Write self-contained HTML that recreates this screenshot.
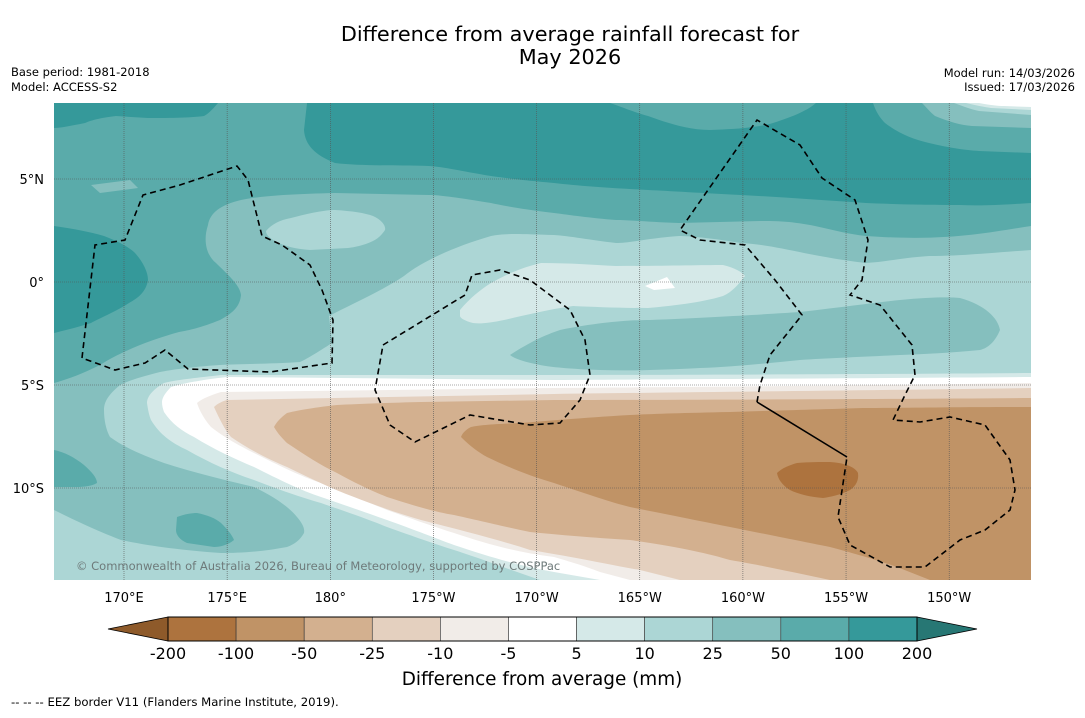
<!DOCTYPE html>
<html><head><meta charset="utf-8"><style>
body{margin:0;background:#fff;width:1085px;height:713px;overflow:hidden;font-family:"Liberation Sans","DejaVu Sans",sans-serif}
svg text{font-family:"DejaVu Sans","Liberation Sans",sans-serif}
</style></head><body>
<svg id="chart" width="1085" height="713" viewBox="0 0 1085 713" xmlns="http://www.w3.org/2000/svg">
<defs><clipPath id="mc"><rect x="54" y="103" width="977" height="477"/></clipPath></defs>
<text x="570" y="41" font-size="20.8" text-anchor="middle" fill="#000">Difference from average rainfall forecast for</text>
<text x="570" y="64" font-size="20.8" text-anchor="middle" fill="#000">May 2026</text>
<text x="11" y="76" font-size="11.5">Base period: 1981-2018</text>
<text x="11" y="91" font-size="11.5">Model: ACCESS-S2</text>
<text x="1075" y="77" font-size="11.5" text-anchor="end">Model run: 14/03/2026</text>
<text x="1075" y="91" font-size="11.5" text-anchor="end">Issued: 17/03/2026</text>
<g clip-path="url(#mc)" stroke="none">
<rect x="54" y="103" width="977" height="477" fill="#85bfbe"/>
<path fill="#5aabaa" d="M54,103 L1031,103 L1031,226 C990,232 950,242 866,236 C830,232 810,220 760,221 L679,223 C650,222 630,220 616,220 C590,218 570,215 554,213 C520,209 500,205 491,203 C460,198 440,195 429,195 L335,193 C290,194 260,196 241,200 C220,205 210,213 208,225 C203,240 206,255 216,263 C228,275 240,285 241,295 C240,305 235,312 220,320 C200,328 190,330 179,332 C150,340 120,352 100,365 C80,375 65,380 54,383 Z"/>
<path fill="#5aabaa" d="M54,450 C64,452 74,457 84,465 C92,472 97,478 97,483 C90,487 80,487 74,487 L54,487 Z"/>
<path fill="#5aabaa" d="M177,517 C185,514 192,513 197,513 C207,515 215,518 221,523 C228,530 232,535 234,540 C228,545 220,547 214,547 L187,543 C180,540 176,535 176,530 Z"/>
<path fill="#35999a" d="M54,103 L218,103 C212,110 208,114 204,116 C190,118 165,118 148,118 L116,116 C100,118 92,120 85,123 C70,126 60,128 54,128 Z"/>
<path fill="#35999a" d="M307,103 L610,103 C625,108 636,113 648,116 C670,124 690,130 710,130 C740,129 760,127 773,123 C795,116 808,110 816,103 L873,103 C876,112 880,118 885,123 C898,133 912,139 929,143 C950,148 965,150 979,151 L1031,153 L1031,203 C1000,205 980,206 960,205 C920,205 890,204 866,203 C820,200 780,197 741,195 C700,193 670,191 648,190 C610,188 580,186 554,183 C520,180 505,178 491,176 C460,171 445,167 429,166 C390,165 360,166 335,163 C315,155 305,145 304,130 Z"/>
<path fill="#35999a" d="M54,226 C75,229 90,232 104,236 C120,242 130,248 135,253 C143,262 148,272 148,280 C146,292 138,298 129,303 C115,312 100,318 91,323 C75,328 62,331 54,333 Z"/>
<path fill="#85bfbe" d="M922,103 C927,108 930,112 935,116 C950,122 960,125 972,126 L1031,128 L1031,103 Z"/>
<path fill="#acd6d5" d="M954,103 C965,107 970,109 979,111 L1031,115 L1031,103 Z"/>
<path fill="#d5e9e8" d="M966,103 C978,106 985,107 991,108 L1031,110 L1031,103 Z"/>
<path fill="#fff" d="M979,103 C990,105 998,106 1004,106 L1031,107 L1031,103 Z"/>
<path fill="#85bfbe" d="M91,185 L130,180 L138,188 L100,193 Z"/>
<path fill="#acd6d5" d="M266,231 C272,224 280,220 291,218 C310,213 325,210 335,210 C352,211 365,213 373,216 C382,220 386,226 385,230 C381,236 377,239 373,241 C362,246 355,247 348,248 L310,250 C295,249 285,246 279,243 C270,239 266,235 266,231 Z"/>
<path fill="#acd6d5" d="M1031,250 C990,253 960,256 929,256 C900,258 885,262 866,263 C840,260 820,256 804,253 C780,248 760,244 741,243 C710,238 690,236 679,236 C650,238 630,243 616,243 C590,240 570,236 554,235 C520,234 505,233 491,236 C450,248 420,263 404,276 C380,292 350,305 329,316 L332,343 C318,352 305,360 300,362 C270,364 240,364 220,365 C190,367 170,370 160,372 C140,377 128,381 120,385 C108,395 104,402 104,410 C104,420 106,430 110,437 C125,448 145,456 164,463 C195,473 225,480 254,487 C275,497 290,508 297,517 C302,523 305,528 304,533 C300,540 295,544 287,547 C260,552 240,553 221,553 C180,550 150,546 121,540 C95,530 70,518 54,510 L54,580 L1031,580 Z"/>
<path fill="#85bfbe" d="M510,355 C530,342 545,335 560,330 C600,322 630,320 650,320 C720,317 770,314 800,312 C850,306 880,302 900,300 C930,297 950,297 960,298 C985,305 998,318 1000,330 C995,342 988,348 980,350 C950,353 925,354 900,355 C860,357 830,358 800,360 C760,364 730,367 700,368 C660,370 630,371 600,370 C570,369 550,367 540,365 C525,362 515,359 510,355 Z"/>
<path fill="#d5e9e8" d="M460,310 C470,298 480,290 491,283 C510,272 528,266 541,263 C570,263 595,265 616,266 C660,266 700,265 723,265 C735,268 742,272 745,276 C738,285 732,292 723,296 C700,303 670,306 648,308 C620,308 595,307 573,306 C545,310 522,316 504,320 C490,323 480,324 473,323 C465,321 460,318 460,316 Z"/>
<path fill="#fff" d="M645,286 L667,277 L675,288 L654,290 Z"/>
<path fill="#d5e9e8" d="M1031,373 C900,374 700,375 554,375 L221,375 C195,378 175,380 164,383 C152,390 147,397 147,403 C148,410 149,415 151,420 C160,435 172,443 187,450 C210,463 230,472 254,480 C280,490 300,497 321,503 C350,513 370,520 387,527 C415,537 435,544 454,550 C485,560 505,568 520,573 L540,580 L1031,580 Z"/>
<path fill="#fff" d="M1031,377 C900,378 700,379 554,380 L227,377 C200,380 180,384 171,387 C165,393 162,398 162,402 C162,406 163,409 164,412 C172,424 182,431 194,437 C215,450 235,459 254,467 C280,480 300,490 321,497 C350,507 370,514 387,520 C415,530 435,538 454,545 C490,557 520,566 554,572 L600,580 L1031,580 Z"/>
<path fill="#f1ece8" d="M1031,383 C900,385 700,387 554,388 L221,392 C208,396 200,400 197,403 C200,412 205,420 211,427 C225,438 240,446 254,453 C280,466 300,476 321,483 C350,495 370,503 387,510 C415,520 435,527 454,533 C490,545 520,553 554,557 C575,563 590,568 600,572 L630,580 L1031,580 Z"/>
<path fill="#e4d0bf" d="M1031,388 C900,390 700,392 554,394 L227,400 C220,402 216,405 214,407 C220,420 225,430 231,437 C250,450 270,460 287,467 C310,478 330,488 354,497 C380,507 400,514 421,520 C460,530 500,540 530,550 C580,558 610,565 640,570 L680,580 L1031,580 Z"/>
<path fill="#d3b08f" d="M1031,398 C900,399 700,400 554,400 L421,402 C380,403 355,404 337,405 C310,408 295,411 287,413 C280,418 276,423 274,427 C278,434 283,439 287,443 C305,455 320,465 337,473 C355,483 372,491 387,497 C415,506 435,512 454,515 C490,523 510,528 530,532 C570,536 600,538 630,540 C680,547 710,554 730,560 C765,566 782,570 797,573 L830,580 L1031,580 Z"/>
<path fill="#c09366" d="M1031,407 C950,407 900,408 863,408 C800,410 760,411 730,412 C680,413 650,414 630,415 C580,418 545,421 521,423 C495,424 480,425 471,427 C465,430 462,434 461,437 C470,446 478,452 487,457 C510,468 530,476 554,483 C590,495 610,502 630,507 C680,517 710,523 730,527 C780,537 810,543 830,547 C860,555 880,561 897,567 L930,580 L1031,580 Z"/>
<path fill="#ad733e" d="M777,473 C782,468 790,465 797,463 C810,462 820,462 830,462 C845,463 855,467 858,473 C859,480 856,486 850,490 C840,495 830,497 823,498 C810,497 798,494 790,490 C782,485 778,479 777,473 Z"/>
<g stroke="#555" stroke-width="0.6" stroke-dasharray="1,1" fill="none" id="grid"></g>
<g fill="none" stroke="#000" stroke-width="1.6">
<path stroke-dasharray="6,4" d="M82,358 L95,245 L125,240 L143,195 L180,185 L237,166 L248,180 L262,236 L282,245 L310,265 L322,290 L333,320 L332,363 L270,372 L188,369 L165,350 L145,363 L115,370 Z"/>
<path stroke-dasharray="6,4" d="M383,345 L465,295 L472,275 L500,270 L530,280 L570,310 L585,340 L590,375 L580,400 L560,423 L530,425 L470,415 L415,442 L390,425 L375,390 Z"/>
<path stroke-dasharray="6,4" d="M757,402 L760,385 L770,355 L802,315 L775,280 L745,245 L700,240 L680,230 L757,120 L800,145 L822,178 L855,200 L868,240 L862,280 L850,295 L880,305 L912,345 L915,375 L905,395 L893,420 L920,422 L950,417 L985,425 L1010,460 L1015,490 L1010,510 L985,530 L960,540 L925,567 L890,567 L850,545 L838,517 L847,457"/>
<path d="M847,457 L757,402"/>
</g>
<text x="76" y="570" font-size="11.5" fill="#6e7a7a">© Commonwealth of Australia 2026, Bureau of Meteorology, supported by COSPPac</text>
</g>
<g id="axes"></g>
<g id="colorbar"></g>
<text x="542" y="685" font-size="18.4" text-anchor="middle">Difference from average (mm)</text>
<text x="11" y="706" font-size="11.7">--  --  -- EEZ border V11 (Flanders Marine Institute, 2019).</text>
</svg>
<script>
const lonTicks=[170,175,180,-175,-170,-165,-160,-155,-150];
const lonLabels=["170°E","175°E","180°","175°W","170°W","165°W","160°W","155°W","150°W"];
const latTicks=[5,0,-5,-10];
const latLabels=["5°N","0°","5°S","10°S"];
const cbLabels=["-200","-100","-50","-25","-10","-5","5","10","25","50","100","200"];
const cbColors=["#ad733e","#c09366","#d3b08f","#e4d0bf","#f1ece8","#ffffff","#d5e9e8","#acd6d5","#85bfbe","#5aabaa","#35999a"];
const cbExtend=["#8e5a2a","#277774"];
const NS="http://www.w3.org/2000/svg";
function xLon(l){const e=l<0?l+360:l;return 124+(e-170)*20.63;}
function yLat(v){return 282-v*20.6;}
const grid=document.getElementById('grid'),axes=document.getElementById('axes'),cb=document.getElementById('colorbar');
function mk(t,a,p){const e=document.createElementNS(NS,t);for(const k in a)e.setAttribute(k,a[k]);p.appendChild(e);return e;}
lonTicks.forEach((l,i)=>{const x=xLon(l);
 const ln=mk('line',{x1:x,y1:103,x2:x,y2:580},grid);
 
 
 const t=mk('text',{x:x,y:602,'font-size':13,'text-anchor':'middle'},axes);t.textContent=lonLabels[i];
 
 });
latTicks.forEach((v,i)=>{const y=yLat(v);
 const ln=mk('line',{x1:54,y1:y,x2:1031,y2:y},grid);
 
 
 const t=mk('text',{x:44,y:y+5,'font-size':13,'text-anchor':'end'},axes);t.textContent=latLabels[i];
 
 });
const cx0=168,cx1=917,cy0=617,cy1=641,bw=(cx1-cx0)/cbColors.length;
const lt=mk('path',{d:`M${cx0},${cy0} L108,${(cy0+cy1)/2} L${cx0},${cy1} Z`,fill:cbExtend[0],stroke:'#000','stroke-width':0.8},cb);


const rt=mk('path',{d:`M${cx1},${cy0} L977,${(cy0+cy1)/2} L${cx1},${cy1} Z`,fill:cbExtend[1],stroke:'#000','stroke-width':0.8},cb);


cbColors.forEach((c,i)=>{const r=mk('rect',{x:cx0+i*bw,y:cy0,width:bw,height:cy1-cy0,fill:c,stroke:'#333','stroke-width':0.6},cb);
 
 });
mk('rect',{x:cx0,y:cy0,width:cx1-cx0,height:cy1-cy0,fill:'none',stroke:'#000','stroke-width':1},cb);
cbLabels.forEach((s,i)=>{const t=mk('text',{x:cx0+i*bw,y:659,'font-size':16,'text-anchor':'middle'},cb);t.textContent=s;
 
 });
</script>
</body></html>
